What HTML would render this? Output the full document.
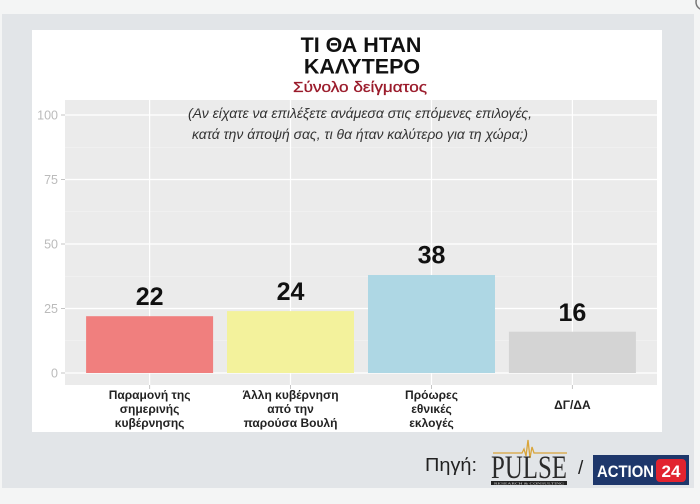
<!DOCTYPE html>
<html><head><meta charset="utf-8"><style>
html,body{margin:0;padding:0;background:#f4f5f5;}
svg{display:block;}
</style></head><body>
<svg width="700" height="504" viewBox="0 0 700 504" xmlns="http://www.w3.org/2000/svg" font-family="'Liberation Sans', 'Noto Sans CJK SC', sans-serif">
<rect x="0" y="0" width="700" height="504" fill="#f4f5f5"/>
<circle cx="704" cy="2" r="8" fill="none" stroke="#777" stroke-width="1.5"/>
<rect x="2" y="14" width="692" height="474" fill="#e2e5e8"/>
<rect x="32" y="30" width="630" height="402" fill="#ffffff"/>
<!-- title -->
<text x="361" y="52" text-anchor="middle" font-size="21.5" font-weight="bold" fill="#111">ΤΙ ΘΑ ΗΤΑΝ</text>
<text x="362" y="73.5" text-anchor="middle" font-size="21.5" font-weight="bold" fill="#111">ΚΑΛΥΤΕΡΟ</text>
<text x="360" y="92" text-anchor="middle" font-size="14.5" fill="#9a1a2a" stroke="#9a1a2a" stroke-width="0.3" textLength="134" lengthAdjust="spacingAndGlyphs">Σύνολο δείγματος</text>
<!-- panel -->
<rect x="65" y="100" width="592" height="285" fill="#ebebeb"/>
<g stroke="#f5f5f5" stroke-width="0.6">
<line x1="65" x2="657" y1="340.75" y2="340.75"/>
<line x1="65" x2="657" y1="276.25" y2="276.25"/>
<line x1="65" x2="657" y1="211.75" y2="211.75"/>
<line x1="65" x2="657" y1="147.25" y2="147.25"/>
</g>
<g stroke="#ffffff" stroke-width="1.2">
<line x1="65" x2="657" y1="373" y2="373"/>
<line x1="65" x2="657" y1="308.5" y2="308.5"/>
<line x1="65" x2="657" y1="244" y2="244"/>
<line x1="65" x2="657" y1="179.5" y2="179.5"/>
<line x1="65" x2="657" y1="115" y2="115"/>
<line x1="149.6" x2="149.6" y1="100" y2="385"/>
<line x1="290.5" x2="290.5" y1="100" y2="385"/>
<line x1="431.5" x2="431.5" y1="100" y2="385"/>
<line x1="572.4" x2="572.4" y1="100" y2="385"/>
</g>
<!-- bars -->
<rect x="86.1" y="316.2" width="127" height="56.8" fill="#f07f7e"/>
<rect x="227" y="311.1" width="127" height="61.9" fill="#f3f29c"/>
<rect x="368" y="275" width="127" height="98" fill="#aed7e4"/>
<rect x="508.9" y="331.7" width="127" height="41.3" fill="#d4d4d4"/>
<!-- value labels -->
<g font-size="25" font-weight="bold" fill="#111" text-anchor="middle">
<text x="149.6" y="305">22</text>
<text x="290.5" y="300">24</text>
<text x="431.5" y="263.5">38</text>
<text x="572.4" y="321">16</text>
</g>
<!-- plot subtitle -->
<g font-size="13.5" font-style="italic" fill="#333">
<text x="188" y="118" textLength="344" lengthAdjust="spacingAndGlyphs">(Αν είχατε να επιλέξετε ανάμεσα στις επόμενες επιλογές,</text>
<text x="192" y="139" textLength="336" lengthAdjust="spacingAndGlyphs">κατά την άποψή σας, τι θα ήταν καλύτερο για τη χώρα;)</text>
</g>
<!-- y axis -->
<g font-size="12.5" fill="#bbbbbb" text-anchor="end">
<text x="58" y="119.5">100</text>
<text x="58" y="184">75</text>
<text x="58" y="248.5">50</text>
<text x="58" y="313">25</text>
<text x="58" y="377.5">0</text>
</g>
<g stroke="#c4c4c4" stroke-width="1">
<line x1="61" x2="65" y1="115" y2="115"/>
<line x1="61" x2="65" y1="179.5" y2="179.5"/>
<line x1="61" x2="65" y1="244" y2="244"/>
<line x1="61" x2="65" y1="308.5" y2="308.5"/>
<line x1="61" x2="65" y1="373" y2="373"/>
<line x1="149.6" x2="149.6" y1="385" y2="389"/>
<line x1="290.5" x2="290.5" y1="385" y2="389"/>
<line x1="431.5" x2="431.5" y1="385" y2="389"/>
<line x1="572.4" x2="572.4" y1="385" y2="389"/>
</g>
<!-- x labels -->
<g font-size="12" font-weight="bold" fill="#222" text-anchor="middle">
<text x="149.6" y="399">Παραμονή της</text>
<text x="149.6" y="413">σημερινής</text>
<text x="149.6" y="427">κυβέρνησης</text>
<text x="290.5" y="399">Άλλη κυβέρνηση</text>
<text x="290.5" y="413">από την</text>
<text x="290.5" y="427">παρούσα Βουλή</text>
<text x="431.5" y="399">Πρόωρες</text>
<text x="431.5" y="413">εθνικές</text>
<text x="431.5" y="427">εκλογές</text>
<text x="572.4" y="409">ΔΓ/ΔΑ</text>
</g>
<!-- source -->
<text x="425" y="471" font-size="18" fill="#222" textLength="52" lengthAdjust="spacingAndGlyphs">Πηγή:</text>
<!-- PULSE logo -->
<polyline points="493,453 522,453 524,449 526,456 528,440 530,458 532,447 534,453 567,453" fill="none" stroke="#d9a53a" stroke-width="1.3"/>
<text x="491" y="478" font-family="'Liberation Serif', serif" font-size="33" fill="#2b2b2b" textLength="76" lengthAdjust="spacingAndGlyphs">PULSE</text>
<rect x="491" y="481" width="76" height="4" fill="#222"/>
<text x="529" y="484.3" text-anchor="middle" font-family="'Liberation Serif', serif" font-size="3.5" fill="#ddd" textLength="70" lengthAdjust="spacingAndGlyphs">RESEARCH &amp; CONSULTING</text>
<text x="578" y="474" font-size="19" fill="#222">/</text>
<!-- ACTION 24 -->
<rect x="593" y="455" width="96" height="30" fill="#1e376b"/>
<text x="597" y="477" font-size="17" font-weight="bold" fill="#fff" textLength="57" lengthAdjust="spacingAndGlyphs">ACTION</text>
<rect x="656" y="459" width="30" height="23" rx="4" fill="#e2232f"/>
<text x="671" y="477" text-anchor="middle" font-size="17" font-weight="bold" fill="#fff">24</text>
</svg>
</body></html>
